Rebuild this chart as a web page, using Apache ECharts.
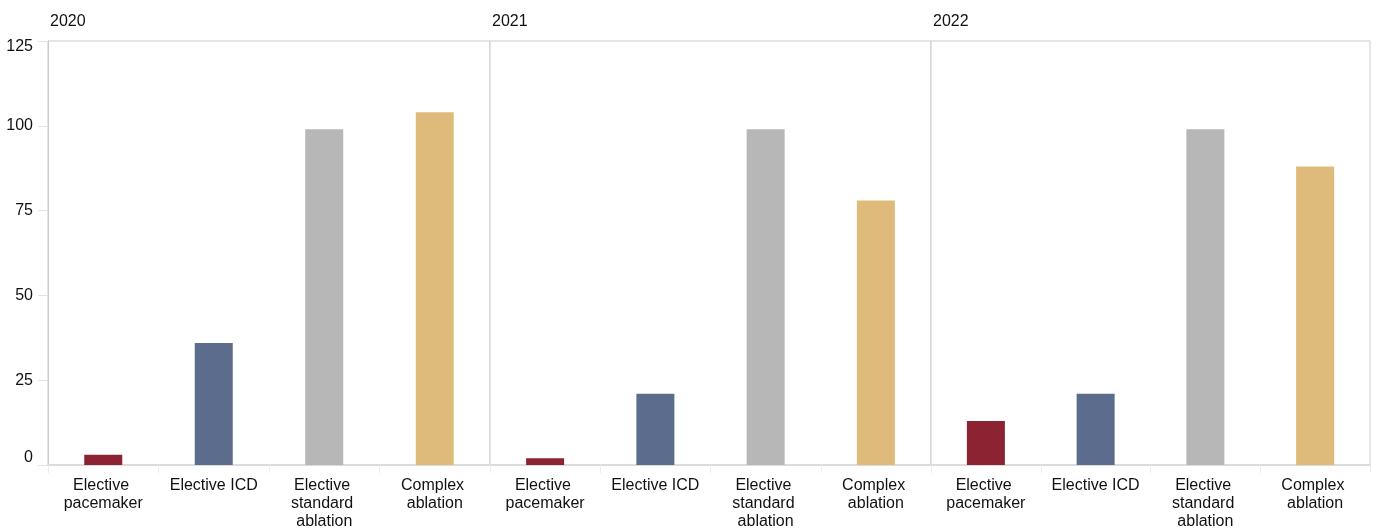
<!DOCTYPE html>
<html>
<head>
<meta charset="utf-8">
<script src="https://cdn.jsdelivr.net/npm/echarts@6/dist/echarts.min.js"></script>
<style>
  html, body { margin: 0; padding: 0; background: #fff; }
  #chart { width: 1373px; height: 531px; }
</style>
</head>
<body>
<div id="chart"></div>
<script>
// data
var years = ["2020", "2021", "2022"];
var categories = ["Elective pacemaker", "Elective ICD", "Elective standard ablation", "Complex ablation"];
var values2020 = [3, 36, 99, 104];
var values2021 = [2, 21, 99, 78];
var values2022 = [13, 21, 99, 88];
var yMin = 0, yMax = 125, yStep = 25;

var barColors = ["#8b2332", "#5b6c8c", "#b7b7b7", "#dfbb7b"];
var allValues = [values2020, values2021, values2022];

var chart = echarts.init(document.getElementById("chart"));

// three panels side by side
var panels = [
  { left: 48, width: 442 },
  { left: 490, width: 441 },
  { left: 931, width: 439 }
];
var font = "Liberation Sans, Arial, sans-serif";

var grids = [], xAxes = [], yAxes = [], series = [], titles = [];
panels.forEach(function (p, i) {
  grids.push({
    left: p.left, top: 41, width: p.width, height: 424,
    show: true, borderColor: "#cbcbcb", borderWidth: 1, backgroundColor: "#fff"
  });
  xAxes.push({
    type: "category", gridIndex: i, data: categories,
    axisLine: { show: true, lineStyle: { color: "#d9d9d9", width: 1.5 } },
    axisTick: { show: true, length: 8, lineStyle: { color: "#ececec" } },
    axisLabel: {
      interval: 0, margin: 12, color: "#111", fontSize: 16, fontFamily: font,
      lineHeight: 18, width: 100, overflow: "break", align: "center"
    }
  });
  yAxes.push({
    type: "value", gridIndex: i, min: yMin, max: yMax, interval: yStep,
    splitLine: { show: false },
    axisLine: { show: i === 0, lineStyle: { color: "#cbcbcb" } },
    axisTick: { show: i === 0, length: 10, lineStyle: { color: "#e2e2e2" } },
    axisLabel: {
      show: i === 0, margin: 15, color: "#111", fontSize: 16, fontFamily: font,
      formatter: function (v) {
        if (v === yMin) return "{lo|" + v + "}";
        if (v === yMax) return "{hi|" + v + "}";
        return v;
      },
      rich: {
        lo: { fontSize: 16, fontFamily: font, color: "#111", padding: [0, 0, 14, 0] },
        hi: { fontSize: 16, fontFamily: font, color: "#111", padding: [12, 0, 0, 0] }
      }
    }
  });
  series.push({
    type: "bar", xAxisIndex: i, yAxisIndex: i, barWidth: 38,
    data: allValues[i].map(function (v, k) {
      return { value: v, itemStyle: { color: barColors[k] } };
    })
  });
  titles.push({
    text: years[i], left: p.left - 3, top: 9,
    textStyle: { fontSize: 16, fontWeight: "normal", color: "#111", fontFamily: font }
  });
});

chart.setOption({
  animation: false,
  title: titles,
  grid: grids,
  xAxis: xAxes,
  yAxis: yAxes,
  series: series
});
</script>
</body>
</html>
